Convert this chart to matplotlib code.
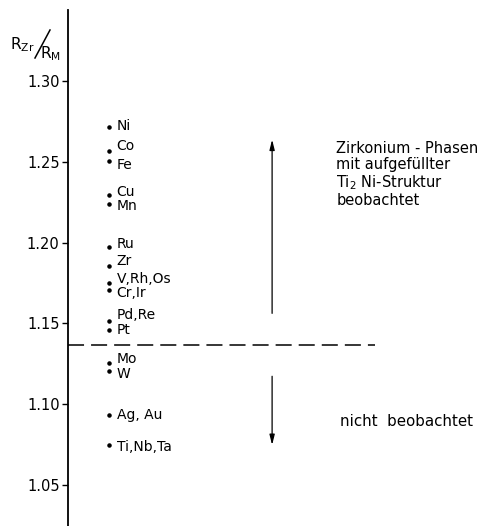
import matplotlib.pyplot as plt
from matplotlib.lines import Line2D

# Radienverhaeltnis R_Zr / R_M fuer die einzelnen Elemente
elements = ["Ni", "Co", "Fe", "Cu", "Mn", "Ru", "Zr", "V,Rh,Os", "Cr,Ir",
            "Pd,Re", "Pt", "Mo", "W", "Ag, Au", "Ti,Nb,Ta"]
ratios = [1.2713, 1.2565, 1.2503, 1.2293, 1.2237, 1.1976, 1.1853, 1.1748, 1.1705,
          1.1513, 1.1457, 1.1253, 1.1204, 1.0931, 1.0745]
# Lage der Beschriftung relativ zum Punkt (Pixel, positiv = hoeher)
label_shift = [1, 5, -4, 3, -2, 3, 5, 4, -3, 6, 0, 4, -3, 0, -2]
boundary = 1.1366
yticks = [1.05, 1.10, 1.15, 1.20, 1.25, 1.30]

plt.rcParams['font.family'] = 'DejaVu Sans'

fig = plt.figure(figsize=(4.95, 5.26), dpi=100)
ax = fig.add_axes([68 / 495, 0, 427 / 495, 516 / 526])
ax.set_xlim(0, 1)
ax.set_ylim(1.0246, 1.344)
px = (1.344 - 1.0246) / 516  # Datenwert pro Pixel

for s in ["top", "right", "bottom"]:
    ax.spines[s].set_visible(False)
ax.spines["left"].set_linewidth(1.3)
ax.set_xticks([])
ax.set_yticks(yticks)
ax.set_yticklabels(["%.2f" % v for v in yticks])
ax.tick_params(axis="y", direction="out", length=4, width=1, labelsize=10.5, pad=2)

ax.scatter([0.096] * len(ratios), ratios, s=5, color="black", zorder=3)
for r, name, sh in zip(ratios, elements, label_shift):
    ax.text(0.114, r + sh * px, name, fontsize=10, va="center", ha="left")

# Grenzlinie
ax.plot([0.0, 0.72], [boundary, boundary], color="black", lw=1.1,
        dashes=(10.5, 4.6))

# Pfeile
ax.annotate("", xy=(0.478, 1.2655), xytext=(0.478, 1.1545),
            arrowprops=dict(arrowstyle="-|>,head_length=0.6,head_width=0.15",
                            color="black", lw=0.9))
ax.annotate("", xy=(0.478, 1.0730), xytext=(0.478, 1.1190),
            arrowprops=dict(arrowstyle="-|>,head_length=0.6,head_width=0.15",
                            color="black", lw=0.9))

ax.text(0.628, 1.2629, "Zirkonium - Phasen\nmit aufgefüllter\nTi$_{\\mathrm{2}}$ Ni-Struktur\nbeobachtet",
        fontsize=10.5, va="top", ha="left", linespacing=1.08)
ax.text(0.637, 1.089, "nicht  beobachtet", fontsize=10.8, va="center", ha="left")

# Achsenbeschriftung
fig.text(10 / 495, 1 - 49 / 526, "R$_{\\mathrm{Zr}}$", fontsize=11, va="baseline", ha="left")
fig.text(40 / 495, 1 - 58 / 526, "R$_{\\mathrm{M}}$", fontsize=11, va="baseline", ha="left")
fig.add_artist(Line2D([35 / 495, 50 / 495], [1 - 58 / 526, 1 - 30 / 526],
                      transform=fig.transFigure, color="black", lw=1.1))

fig.savefig("out.png", dpi=100)
